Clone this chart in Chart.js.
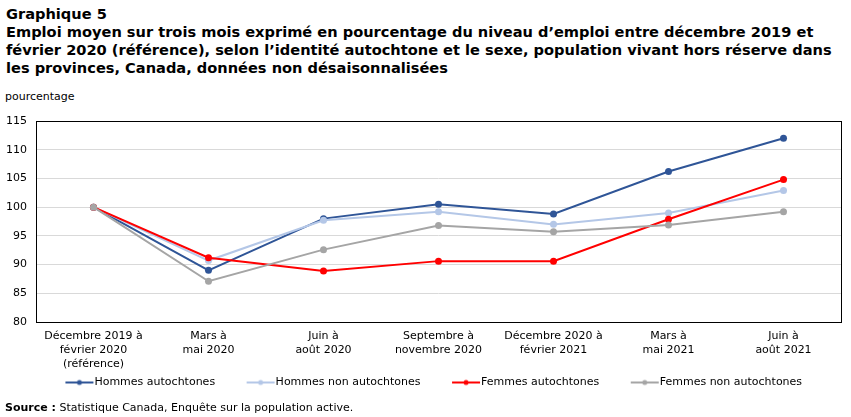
<!DOCTYPE html>
<html lang="fr">
<head>
<meta charset="utf-8">
<script src="https://cdn.jsdelivr.net/npm/chart.js@4.4.0/dist/chart.umd.min.js"></script>
<style>
  html, body { margin: 0; padding: 0; background: #fff; }
  body { width: 851px; height: 417px; position: relative; overflow: hidden; font-family: "DejaVu Sans", Verdana, sans-serif; color: #000; }
  .titre { position: absolute; left: 6px; top: 5px; font-size: 14.6px; font-weight: bold; line-height: 18px; white-space: nowrap; }
  .unite { position: absolute; left: 5px; top: 90px; font-size: 11px; }
  .source { position: absolute; left: 5px; top: 401px; font-size: 11px; }
  #wrap { position: absolute; left: 0; top: 0; width: 851px; height: 417px; }
</style>
</head>
<body>
<div class="titre">Graphique 5<br>Emploi moyen sur trois mois exprimé en pourcentage du niveau d’emploi entre décembre 2019 et<br>février 2020 (référence), selon l’identité autochtone et le sexe, population vivant hors réserve dans<br>les provinces, Canada, données non désaisonnalisées</div>
<div class="unite">pourcentage</div>
<div id="wrap"><canvas id="graph"></canvas></div>
<div class="source"><b>Source :</b> Statistique Canada, Enquête sur la population active.</div>
<script>
// catégories (périodes de trois mois)
const periodes = [
  ['Décembre 2019 à', 'février 2020', '(référence)'],
  ['Mars à', 'mai 2020'],
  ['Juin à', 'août 2020'],
  ['Septembre à', 'novembre 2020'],
  ['Décembre 2020 à', 'février 2021'],
  ['Mars à', 'mai 2021'],
  ['Juin à', 'août 2021']
];

// séries (indice, déc. 2019 à fév. 2020 = 100)
const hommesAutochtones = [100, 89.0, 98.0, 100.5, 98.8, 106.2, 112.0];
const hommesNonAutochtones = [100, 90.7, 97.7, 99.2, 97.0, 99.0, 102.9];
const femmesAutochtones = [100, 91.2, 88.9, 90.6, 90.6, 97.9, 104.8];
const femmesNonAutochtones = [100, 87.1, 92.6, 96.8, 95.7, 96.9, 99.2];

// axe vertical
const yMin = 80, yMax = 115, yPas = 5;

// petit dessin de légende : trait + point
function marqueLegende(couleur) {
  const c = document.createElement('canvas');
  c.width = 61; c.height = 10;
  const g = c.getContext('2d');
  g.strokeStyle = couleur;
  g.lineWidth = 2;
  g.beginPath(); g.moveTo(32, 5); g.lineTo(60, 5); g.stroke();
  g.fillStyle = couleur;
  g.beginPath(); g.arc(46, 5, 2.5, 0, Math.PI * 2); g.fill();
  return c;
}

// cadre noir autour de la zone de tracé
const cadre = {
  id: 'cadre',
  afterDraw(chart) {
    const a = chart.chartArea, ctx = chart.ctx;
    ctx.save();
    ctx.strokeStyle = '#000';
    ctx.lineWidth = 1;
    ctx.strokeRect(Math.round(a.left) + 0.5, Math.round(a.top) + 0.5, Math.round(a.right - a.left), Math.round(a.bottom - a.top));
    ctx.restore();
  }
};

document.addEventListener('DOMContentLoaded', function () {
  const ctx = document.getElementById('graph').getContext('2d');

  const series = [
    { label: 'Hommes autochtones', data: hommesAutochtones, color: '#2F5597', order: 3 },
    { label: 'Hommes non autochtones', data: hommesNonAutochtones, color: '#B4C7E7', order: 2 },
    { label: 'Femmes autochtones', data: femmesAutochtones, color: '#FF0000', order: 1 },
    { label: 'Femmes non autochtones', data: femmesNonAutochtones, color: '#A5A5A5', order: 0 }
  ];

  new Chart(ctx, {
    type: 'line',
    data: {
      labels: periodes,
      datasets: series.map(s => ({
        label: s.label,
        data: s.data,
        order: s.order,
        borderColor: s.color,
        backgroundColor: s.color,
        borderWidth: 2,
        pointRadius: 3.5,
        pointHoverRadius: 3.5,
        pointBorderWidth: 0,
        tension: 0,
        fill: false
      }))
    },
    options: {
      responsive: true,
      maintainAspectRatio: false,
      animation: false,
      layout: { padding: { top: 121, right: 10, bottom: 19, left: 0 } },
      scales: {
        x: {
          offset: true,
          grid: { display: false, drawTicks: false, tickLength: 0 },
          border: { display: false },
          ticks: {
            color: '#000',
            padding: 7,
            maxRotation: 0,
            autoSkip: false,
            font: { family: 'DejaVu Sans', size: 11, lineHeight: 1.27 }
          },
          afterFit(axis) { axis.height = 50; }
        },
        y: {
          min: yMin,
          max: yMax,
          border: { display: false },
          grid: {
            color: (c) => (c.tick.value === yMin || c.tick.value === yMax) ? 'rgba(0,0,0,0)' : '#D9D9D9',
            drawTicks: false
          },
          ticks: {
            stepSize: yPas,
            color: '#000',
            padding: 9,
            font: { family: 'DejaVu Sans', size: 11 }
          },
          afterFit(axis) { axis.width = 36; }
        }
      },
      plugins: {
        legend: {
          position: 'bottom',
          labels: {
            usePointStyle: true,
            pointStyleWidth: 50,
            boxHeight: 10,
            padding: 5,
            color: '#000',
            font: { family: 'DejaVu Sans', size: 11 },
            generateLabels(chart) {
              return chart.data.datasets.map((ds, i) => ({
                text: ds.label,
                fillStyle: ds.borderColor,
                strokeStyle: ds.borderColor,
                fontColor: '#000',
                lineWidth: 0,
                pointStyle: marqueLegende(ds.borderColor),
                hidden: !chart.isDatasetVisible(i),
                datasetIndex: i
              }));
            }
          }
        },
        tooltip: { enabled: false }
      }
    },
    plugins: [cadre]
  });
});
</script>
</body>
</html>
